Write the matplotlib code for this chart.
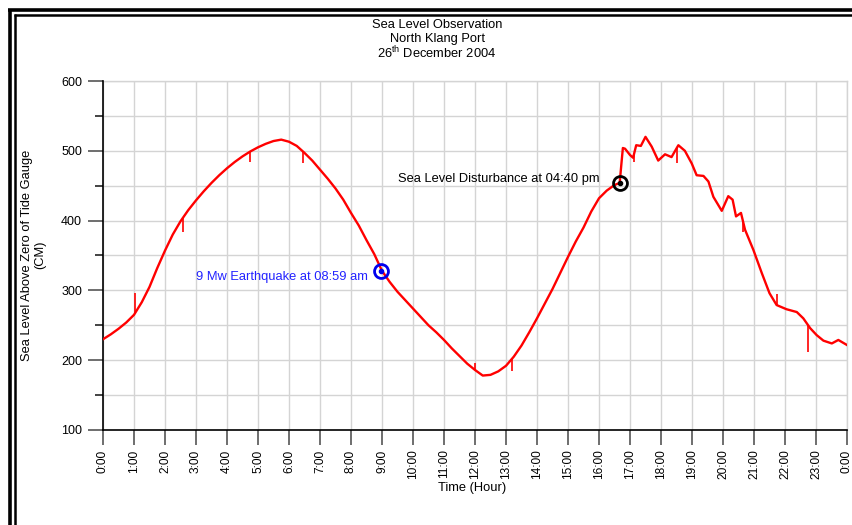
import numpy as np
import matplotlib
matplotlib.use("Agg")
import matplotlib.pyplot as plt
from matplotlib.lines import Line2D
from matplotlib.ticker import MultipleLocator

plt.rcParams['font.family'] = ['Liberation Sans', 'DejaVu Sans']
plt.rcParams['mathtext.fontset'] = 'custom'
plt.rcParams['mathtext.rm'] = 'Liberation Sans'

# Tide gauge record, North Klang Port (hours since midnight, cm)
hours = [0.00, 0.25, 0.50, 0.75, 1.00, 1.25, 1.50, 1.75, 2.00, 2.25, 2.50, 2.75,
         3.00, 3.25, 3.50, 3.75, 4.00, 4.25, 4.50, 4.75, 5.00, 5.25, 5.50, 5.75,
         6.00, 6.25, 6.50, 6.75, 7.00, 7.25, 7.50, 7.75, 8.00, 8.25, 8.50, 8.75,
         9.00, 9.25, 9.50, 9.75, 10.00, 10.25, 10.50, 10.75, 11.00, 11.25, 11.50,
         11.75, 12.00, 12.25, 12.50, 12.75, 13.00, 13.25, 13.50, 13.75, 14.00,
         14.25, 14.50, 14.75, 15.00, 15.25, 15.50, 15.75, 16.00, 16.25, 16.50,
         16.667, 16.72, 16.77, 16.84, 17.00, 17.10, 17.20, 17.35, 17.50, 17.70,
         17.91, 18.13, 18.34, 18.56, 18.77, 18.99, 19.15, 19.37, 19.53, 19.69,
         19.96, 20.17, 20.31, 20.42, 20.58, 20.71, 20.98, 21.25, 21.50, 21.73,
         22.05, 22.38, 22.59, 22.81, 23.02, 23.24, 23.51, 23.72, 23.99]
level = [230, 237, 245, 254, 265, 283, 305, 332, 357, 380, 399, 415,
         429, 442, 454, 465, 475, 484, 492, 499, 505, 510, 514, 516,
         513, 507, 497, 486, 473, 460, 446, 430, 411, 393, 372, 352,
         328, 312, 298, 286, 274, 262, 250, 240, 229, 217, 206,
         195, 186, 178, 179, 184, 192, 205, 221, 240, 260,
         281, 302, 325, 348, 370, 390, 413, 432, 443, 451,
         454, 480, 504, 503, 494, 490, 508, 507, 520, 506,
         486, 495, 491, 508, 500, 482, 465, 464, 456, 434,
         414, 435, 430, 406, 411, 387, 358, 325, 296, 279,
         273, 269, 260, 246, 236, 228, 224, 229, 222]

# Short-lived gauge glitches (hour, reading)
spike_hours = [1.03, 1.27, 2.58, 4.75, 6.45, 12.00, 13.18, 17.13, 18.50, 20.65, 21.73, 22.73]
spike_level = [296, 283, 384, 484, 483, 196, 184, 484, 483, 384, 295, 212]

quake_hour, quake_level = 8 + 59 / 60, 328
disturb_hour, disturb_level = 16 + 40 / 60, 454

hour_labels = [f"{h % 24}:00" for h in range(25)]

FS = 9.3

fig = plt.figure(figsize=(8.52, 5.25), dpi=100)
W, H = 852, 525
ax = fig.add_axes([103 / W, 1 - 430 / H, (847 - 103) / W, (430 - 81) / H])

ax.plot(hours, level, color='red', lw=1.7, zorder=3)
base = np.interp(spike_hours, hours, level)
ax.vlines(spike_hours, base, spike_level, color='red', lw=1.2, zorder=3)

ax.set_xlim(0, 24)
ax.set_ylim(100, 600)
ax.set_xticks(range(25))
ax.set_xticklabels(hour_labels, rotation=90, fontsize=8.6)
ax.yaxis.set_major_locator(MultipleLocator(100))
ax.yaxis.set_minor_locator(MultipleLocator(50))
ax.tick_params(axis='y', which='major', length=11, width=1.2, color='#555555',
               labelsize=9, pad=4)
ax.tick_params(axis='y', which='minor', length=6, width=1.2, color='#222222')
ax.tick_params(axis='x', which='major', length=11, width=1.2, color='#555555', pad=3)

ax.grid(True, which='both', color='#d4d4d4', lw=1.0, zorder=0)
ax.set_axisbelow(True)
for s in ('top', 'right'):
    ax.spines[s].set_visible(False)
ax.spines['left'].set_linewidth(1.2)
ax.spines['bottom'].set_linewidth(1.2)
ax.plot([1, 1], [0, 1], transform=ax.transAxes, color='#d4d4d4', lw=1.0, clip_on=False, zorder=0)
ax.plot([0, 1], [1, 1], transform=ax.transAxes, color='#d4d4d4', lw=1.0, clip_on=False, zorder=0)

fig.text(472 / W, 1 - 488 / H, "Time (Hour)", ha='center', va='center', fontsize=FS)
fig.text(34 / W, 1 - 255 / H, "Sea Level Above Zero of Tide Gauge\n(CM)", rotation=90,
         ha='center', va='center', fontsize=FS, multialignment='center', linespacing=1.15)

# Event markers
ax.plot(quake_hour, quake_level, 'o', ms=10, mfc='none', mec='#0000ee', mew=2, zorder=4)
ax.plot(quake_hour, quake_level, 'o', ms=3, color='#0000ee', zorder=4)
ax.text(8.55, quake_level - 9, "9 Mw Earthquake at 08:59 am", color='#2222ff',
        fontsize=FS, ha='right', va='center')
ax.plot(disturb_hour, disturb_level, 'o', ms=10, mfc='none', mec='black', mew=2, zorder=4)
ax.plot(disturb_hour, disturb_level, 'o', ms=3, color='black', zorder=4)
ax.text(16.0, disturb_level + 6, "Sea Level Disturbance at 04:40 pm", color='black',
        fontsize=FS, ha='right', va='center')

# Title block
tx = 437 / W
fig.text(tx, 1 - 25 / H, "Sea Level Observation", ha='center', va='center', fontsize=FS)
fig.text(tx, 1 - 39 / H, "North Klang Port", ha='center', va='center', fontsize=FS)
fig.text(tx, 1 - 53 / H, r"26$^{\mathrm{th}}$ December 2004", ha='center', va='center',
         fontsize=FS)

# Page frame (double rule on left and top)
def fig_line(xs, ys, lw):
    fig.add_artist(Line2D([x / W for x in xs], [1 - y / H for y in ys],
                          color='black', lw=lw, solid_capstyle='butt'))

fig_line([9.5, 9.5], [9, H], 2.6)
fig_line([14.5, 14.5], [14, H], 1.8)
fig_line([8, W], [10, 10], 2.6)
fig_line([13.6, W], [15, 15], 1.8)

fig.savefig("out.png", dpi=100)
